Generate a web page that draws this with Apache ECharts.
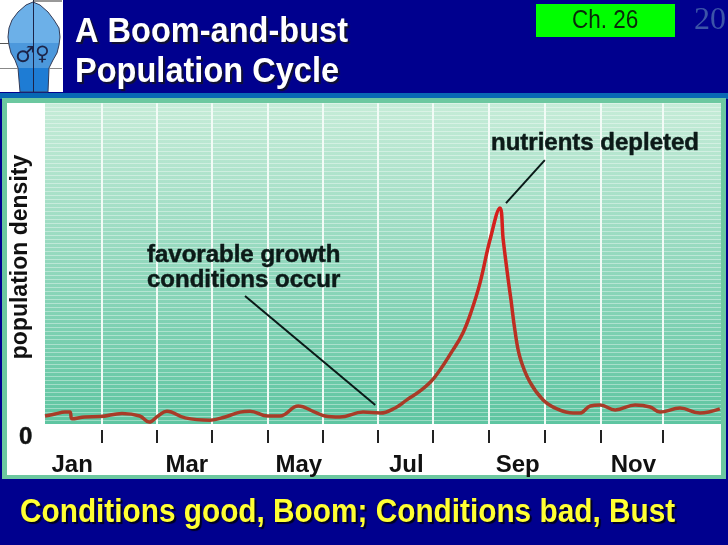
<!DOCTYPE html>
<html lang="en">
<head>
    <meta charset="UTF-8">
    <title>A Boom-and-bust Population Cycle</title>
    <style>
        html, body { margin: 0; padding: 0; background: #00008e; }
        #chart { width: 728px; height: 545px; }
    </style>
</head>
<body>
<div id="chart"></div>
<script src="https://cdn.jsdelivr.net/npm/echarts@6/dist/echarts.min.js"></script>
<script>
    // x is in months from the start of January, y is density in % of plot height
    var monthPos = [0, 0.18, 0.36, 0.45, 0.49, 0.72, 0.99, 1.39, 1.71, 1.88, 2.04, 2.20, 2.53, 2.98, 3.25, 3.52, 3.70, 4.02, 4.24, 4.57, 4.87, 5.05, 5.32, 5.74, 6.05, 6.32, 6.53, 6.77, 7.02, 7.36, 7.54, 7.69, 7.85, 8.03, 8.21, 8.27, 8.36, 8.41, 8.48, 8.57, 8.75, 8.99, 9.24, 9.53, 9.65, 9.84, 10.02, 10.29, 10.65, 10.92, 11.10, 11.46, 11.82, 12.18];
    var density = [2.5, 3.1, 3.7, 3.7, 1.6, 2.2, 2.3, 3.3, 2.5, 0.6, 2.5, 4.0, 1.9, 1.2, 2.2, 3.7, 4.0, 2.5, 2.5, 5.6, 3.7, 2.5, 2.2, 3.7, 3.4, 5.0, 7.5, 10.3, 14.3, 23, 28.3, 34.9, 43.9, 57.3, 67.3, 57.3, 44.9, 38.6, 29.3, 20.9, 13.1, 7.5, 4.7, 3.4, 3.4, 5.6, 5.9, 4.4, 5.9, 5.3, 3.7, 5, 3.4, 4.7];
    var monthTicks = [1.03, 2.02, 3.01, 4.02, 5.01, 6.0, 7.0, 8.0, 9.02, 10.03, 11.15];
    var monthLabelPos = [0.49, 2.56, 4.58, 6.52, 8.53, 10.62];
    var monthLabels = ['Jan', 'Mar', 'May', 'Jul', 'Sep', 'Nov'];

    var sansFont = '"Liberation Sans", Arial, sans-serif';

    function slideText(x, y, text, size, color, extra) {
        var style = {
            x: 0, y: 0, text: text, fill: color,
            font: 'bold ' + size + 'px ' + sansFont,
            textVerticalAlign: 'middle'
        };
        for (var k in extra) { if (k !== 'scaleX') style[k] = extra[k]; }
        return { type: 'text', x: x, y: y, scaleX: extra.scaleX || 1, z: 100, style: style };
    }

    var titleShadow = { textShadowColor: '#101030', textShadowOffsetX: 2, textShadowOffsetY: 2, textShadowBlur: 1, scaleX: 0.93 };
    var footShadow = { textShadowColor: '#000020', textShadowOffsetX: 2, textShadowOffsetY: 2, textShadowBlur: 1, scaleX: 0.876 };
    var inkStroke = { stroke: '#0c1a18', lineWidth: 0.5 };

    var myChart = echarts.init(document.getElementById('chart'));
    var option = {
        animation: false,
        backgroundColor: '#00008e',
        grid: {
            left: 45, right: 7, top: 103, bottom: 121,
            show: true, borderWidth: 0,
            backgroundColor: new echarts.graphic.LinearGradient(0, 0, 0, 1, [
                { offset: 0, color: '#c6ecd8' },
                { offset: 0.5, color: '#92d8bd' },
                { offset: 1, color: '#5ec5a1' }
            ])
        },
        xAxis: [
            {
                type: 'value', min: 0, max: 12.2, position: 'bottom',
                axisLine: { show: false },
                axisTick: { show: false, customValues: monthTicks },
                axisLabel: { show: false, customValues: monthTicks },
                splitLine: { show: true, lineStyle: { color: '#f2fbf6', width: 2 } }
            },
            {
                type: 'value', min: 0, max: 12.2, position: 'bottom', offset: 6,
                axisLine: { show: false },
                splitLine: { show: false },
                axisTick: { show: true, customValues: monthTicks, length: 13, lineStyle: { color: '#222', width: 2 } },
                axisLabel: {
                    show: true, customValues: monthLabelPos, margin: 23,
                    color: '#111', fontFamily: sansFont, fontWeight: 'bold', fontSize: 24,
                    formatter: function (v) { return monthLabels[monthLabelPos.indexOf(v)]; }
                }
            }
        ],
        yAxis: {
            type: 'value', min: 0, max: 100, interval: 1.25,
            name: 'population density', nameLocation: 'middle', nameRotate: 90, nameGap: 13,
            nameTextStyle: { color: '#111', fontFamily: sansFont, fontWeight: 'bold', fontSize: 23, padding: [0, 0, 0, 13] },
            axisLine: { show: false },
            axisTick: { show: false },
            axisLabel: { show: false },
            splitLine: { show: true, lineStyle: { color: 'rgba(255,255,255,0.38)', width: 1 } }
        },
        series: [{
            type: 'line',
            data: monthPos.map(function (m, i) { return [m, density[i]]; }),
            smooth: 0.4,
            symbol: 'none',
            lineStyle: {
                width: 3.5,
                color: new echarts.graphic.LinearGradient(0, 0, 0, 1, [
                    { offset: 0, color: '#d81e1c' },
                    { offset: 0.45, color: '#c42a20' },
                    { offset: 0.8, color: '#a83c28' },
                    { offset: 1, color: '#a83c28' }
                ])
            },
            markLine: {
                silent: true, symbol: 'none', label: { show: false },
                lineStyle: { color: '#0a1a18', width: 2, type: 'solid' },
                data: [
                    [{ coord: [3.61, 39.9] }, { coord: [5.96, 5.9] }],
                    [{ coord: [9.02, 82.2] }, { coord: [8.32, 68.8] }]
                ]
            }
        }],
        graphic: [
            // slide panels
            { type: 'rect', z: -10, shape: { x: 0, y: 93, width: 728, height: 6 }, style: { fill: '#0868b4' } },
            { type: 'rect', z: -9, shape: { x: 2, y: 98, width: 724, height: 381 }, style: { fill: '#6cc8a0' } },
            { type: 'rect', z: -8, shape: { x: 7, y: 103, width: 714, height: 372 }, style: { fill: '#ffffff' } },
            // icon
            { type: 'rect', z: 90, shape: { x: 0, y: 0, width: 63, height: 92 }, style: { fill: '#ffffff' } },
            {
                type: 'polygon', z: 91,
                shape: { points: [[33, 2], [26, 5], [18, 12], [12, 20], [9, 28], [8, 37], [9, 45], [11, 53], [15, 60], [18, 68], [20, 92], [48, 92], [49, 68], [53, 60], [57, 53], [59, 45], [60, 37], [59, 28], [54, 20], [48, 12], [40, 5]] },
                style: {
                    stroke: '#343c58', lineWidth: 1,
                    fill: new echarts.graphic.LinearGradient(0, 0, 0, 1, [
                        { offset: 0, color: '#6cb0e8' }, { offset: 0.46, color: '#6cb0e8' },
                        { offset: 0.46, color: '#4c98dc' }, { offset: 0.73, color: '#4c98dc' },
                        { offset: 0.73, color: '#1e7cd4' }, { offset: 1, color: '#1e7cd4' }
                    ])
                }
            },
            { type: 'line', z: 92, shape: { x1: 33.5, y1: 0, x2: 33.5, y2: 92 }, style: { stroke: '#1c2448', lineWidth: 1 } },
            { type: 'line', z: 92, shape: { x1: 33, y1: 1, x2: 62, y2: 1 }, style: { stroke: '#333', lineWidth: 1 } },
            { type: 'line', z: 92, shape: { x1: 0, y1: 43.5, x2: 9, y2: 43.5 }, style: { stroke: '#555', lineWidth: 1 } },
            { type: 'line', z: 92, shape: { x1: 0, y1: 68.5, x2: 18, y2: 68.5 }, style: { stroke: '#888', lineWidth: 1 } },
            { type: 'line', z: 92, shape: { x1: 49, y1: 68.5, x2: 62, y2: 68.5 }, style: { stroke: '#888', lineWidth: 1 } },
            { type: 'text', z: 93, x: 15, y: 45, style: { text: '\u2642', fill: '#1c2448', font: '22px "DejaVu Sans"' } },
            { type: 'text', z: 93, x: 35, y: 45, style: { text: '\u2640', fill: '#1c2448', font: '20px "DejaVu Sans"' } },
            // title block
            slideText(75, 32, 'A Boom-and-bust', 35, '#ffffff', titleShadow),
            slideText(75, 72, 'Population Cycle', 35, '#ffffff', titleShadow),
            { type: 'rect', z: 95, shape: { x: 536, y: 4, width: 139, height: 33 }, style: { fill: '#00ff00' } },
            { type: 'text', z: 96, x: 572, y: 21, scaleX: 0.9, style: { text: 'Ch. 26', fill: '#0a2a0a', font: '25px ' + sansFont, textVerticalAlign: 'middle' } },
            { type: 'text', z: 96, x: 694, y: 21, style: { text: '20', fill: '#3c54a8', font: '32px "Liberation Serif", serif', textVerticalAlign: 'middle' } },
            // annotations
            slideText(491, 143, 'nutrients depleted', 24, '#0c1a18', inkStroke),
            slideText(147, 255, 'favorable growth', 24, '#0c1a18', inkStroke),
            slideText(147, 280, 'conditions occur', 24, '#0c1a18', inkStroke),
            // zero label
            slideText(19, 437, '0', 24, '#111', inkStroke),
            // takeaway
            slideText(20, 513, 'Conditions good, Boom; Conditions bad, Bust', 34, '#ffff33', footShadow)
        ]
    };
    myChart.setOption(option);
</script>
</body>
</html>
